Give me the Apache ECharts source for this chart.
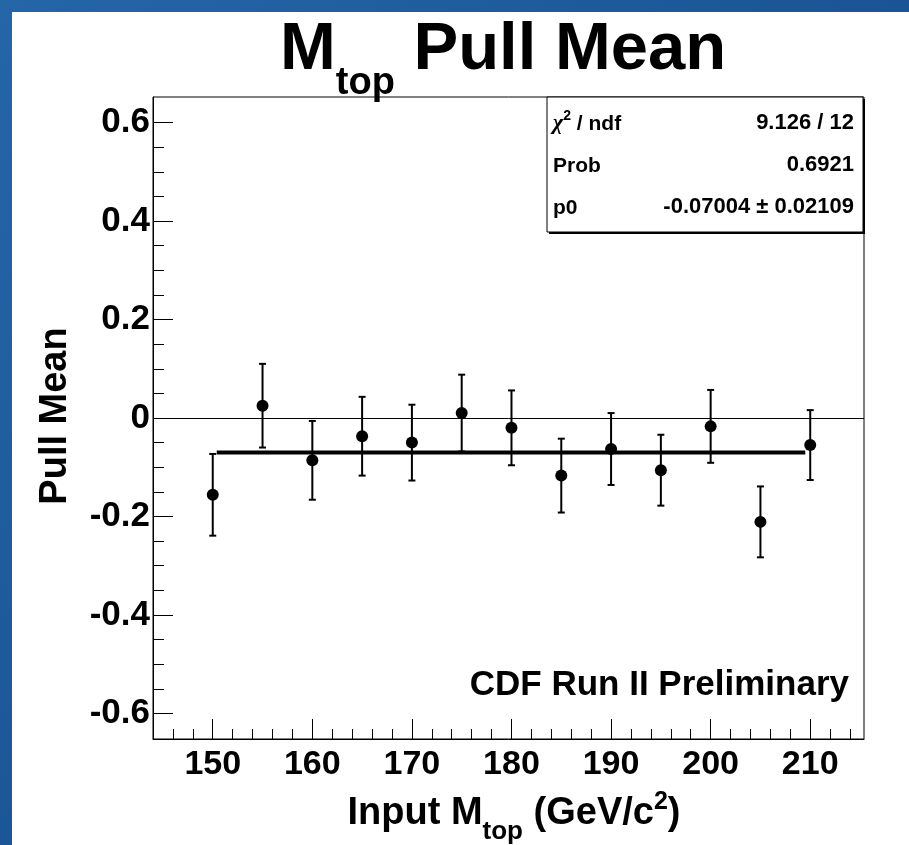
<!DOCTYPE html>
<html><head><meta charset="utf-8">
<script src="https://cdn.jsdelivr.net/npm/echarts@6/dist/echarts.min.js"></script>
<style>html,body{margin:0;padding:0;background:#fff;} #c{width:909px;height:845px;}</style>
</head><body><div id="c"></div>
<script>
// ---- data ----
const massPoints = [150, 155, 160, 165, 170, 175, 180, 185, 190, 195, 200, 205, 210];
const pullMean   = [-0.156, 0.025, -0.086, -0.037, -0.050, 0.010, -0.020, -0.117, -0.063, -0.106, -0.017, -0.211, -0.055];
const pullErr    = [0.083, 0.085, 0.080, 0.080, 0.077, 0.078, 0.076, 0.075, 0.073, 0.072, 0.074, 0.072, 0.071];
const fitRange   = [150.4, 209.5];
const fitP0      = -0.07004;
const xMajorTicks = [150, 160, 170, 180, 190, 200, 210];
const xMinorTicks = [146, 148, 152, 154, 156, 158, 162, 164, 166, 168, 172, 174, 176, 178, 182, 184, 186, 188, 192, 194, 196, 198, 202, 204, 206, 208, 212, 214];
const yMajorTicks = [-0.6, -0.4, -0.2, 0, 0.2, 0.4, 0.6];
const yMinorTicks = [-0.55, -0.5, -0.45, -0.35, -0.3, -0.25, -0.15, -0.1, -0.05, 0.05, 0.1, 0.15, 0.25, 0.3, 0.35, 0.45, 0.5, 0.55];
const xRange = [144, 215.4];
const yRange = [-0.652, 0.652];
const statNames  = ['ndf', 'Prob', 'p0'];
const statValues = ['9.126 / 12', '0.6921', '-0.07004 \u00b1 0.02109'];
const titleText  = ['M', 'top', ' Pull Mean'];
const xTitleText = ['Input M', 'top', ' (GeV/c', '2', ')'];
const yTitleText = 'Pull Mean';
const labelText  = 'CDF Run II Preliminary';

const FONT = '"Liberation Sans", Arial, Helvetica, sans-serif';
const mctx = document.createElement('canvas').getContext('2d');
function tw(s, size, fam, style) {
  mctx.font = (style || '') + ' bold ' + size + 'px ' + (fam || FONT);
  return mctx.measureText(s).width;
}
// pieces: {t, size, dy, fam, style}
function pieceTexts(list, x, baseline, align, z) {
  const ws = list.map(p => tw(p.t, p.size, p.fam, p.style));
  const total = ws.reduce((a, b) => a + b, 0);
  let cx = align === 'right' ? x - total : align === 'center' ? x - total / 2 : x;
  return list.map((p, i) => {
    const el = {
      type: 'text', x: cx, y: baseline + (p.dy || 0) - 0.3465 * p.size, z: z || 50,
      style: { text: p.t, fontSize: p.size, fontWeight: 'bold', fontStyle: p.style || 'normal',
               fontFamily: p.fam || FONT, fill: '#000', align: 'left', verticalAlign: 'middle' }
    };
    cx += ws[i];
    return el;
  });
}

const chart = echarts.init(document.getElementById('c'), null, { renderer: 'canvas' });

const gridL = 153, gridT = 97, gridR = 864, gridB = 739;

const graphics = [];
graphics.push({ type: 'rect', z: -10, shape: { x: 12, y: 12, width: 909, height: 845 }, style: { fill: '#fff' } });
// title
graphics.push(...pieceTexts([
  { t: titleText[0], size: 67 }, { t: titleText[1], size: 38, dy: 23 }, { t: titleText[2], size: 67 }
], 280, 74, 'left'));
// x title
graphics.push(...pieceTexts([
  { t: xTitleText[0], size: 38 }, { t: xTitleText[1], size: 26, dy: 14 }, { t: xTitleText[2], size: 38 },
  { t: xTitleText[3], size: 25, dy: -16 }, { t: xTitleText[4], size: 38 }
], 514, 827, 'center'));
// y title
graphics.push({
  type: 'text', x: 56, y: 416, rotation: Math.PI / 2, z: 50,
  style: { text: yTitleText, fontSize: 38, fontWeight: 'bold', fontFamily: FONT, fill: '#000', align: 'center', verticalAlign: 'middle' }
});
// CDF label
graphics.push(...pieceTexts([{ t: labelText, size: 35 }], 849, 697, 'right'));
// stats box
const bx = 547, by = 97, bw = 316, bh = 135;
graphics.push({ type: 'rect', z: 60, shape: { x: bx + 2, y: by + 2, width: bw, height: bh }, style: { fill: '#000' } });
graphics.push({ type: 'rect', z: 61, shape: { x: bx, y: by, width: bw, height: bh }, style: { fill: '#fff', stroke: '#000', lineWidth: 1 } });
const rowBase = [131, 173, 215];
graphics.push(...pieceTexts([
  { t: '\u03c7', size: 22, fam: '"Liberation Serif", serif', style: 'italic' }, { t: '2', size: 14, dy: -10 }, { t: ' / ' + statNames[0], size: 21 }
], 553, rowBase[0], 'left', 70));
graphics.push(...pieceTexts([{ t: statNames[1], size: 21 }], 553, rowBase[1], 'left', 70));
graphics.push(...pieceTexts([{ t: statNames[2], size: 21 }], 553, rowBase[2], 'left', 70));
statValues.forEach((v, i) => graphics.push(...pieceTexts([{ t: v, size: 22 }], 854, rowBase[i], 'right', 70)));

const axisLineStyle = { color: '#000', width: 1 };
function xAxisDef(major) {
  return {
    type: 'value', gridIndex: 0, position: 'bottom', min: xRange[0], max: xRange[1],
    axisLine: { show: major, onZero: false, lineStyle: axisLineStyle },
    axisTick: { show: true, inside: true, length: major ? 20 : 10, lineStyle: { color: '#000', width: 1 },
                customValues: major ? xMajorTicks : xMinorTicks },
    axisLabel: major ? { show: true, customValues: xMajorTicks, margin: 9, color: '#000', fontSize: 34, fontWeight: 'bold', fontFamily: FONT }
                     : { show: false },
    splitLine: { show: false }, minorTick: { show: false }
  };
}
function yAxisDef(major) {
  return {
    type: 'value', gridIndex: 0, position: 'left', min: yRange[0], max: yRange[1],
    axisLine: { show: major, onZero: false, lineStyle: axisLineStyle },
    axisTick: { show: true, inside: true, length: major ? 20 : 11, lineStyle: { color: '#000', width: 1 },
                customValues: major ? yMajorTicks : yMinorTicks },
    axisLabel: major ? { show: true, customValues: yMajorTicks, margin: 3, color: '#000', fontSize: 35, fontWeight: 'bold', fontFamily: FONT,
                         formatter: v => (Math.abs(v) < 1e-9 ? '0' : String(Math.round(v * 10) / 10)) }
                     : { show: false },
    splitLine: { show: false }, minorTick: { show: false }
  };
}

chart.setOption({
  animation: false,
  backgroundColor: new echarts.graphic.LinearGradient(0, 0, 1, 1, [
    { offset: 0, color: '#2566a8' }, { offset: 0.5, color: '#1b5596' }, { offset: 1, color: '#164a88' }
  ]),
  grid: { left: gridL, top: gridT, width: gridR - gridL, height: gridB - gridT, show: true,
          borderColor: '#000', borderWidth: 1, backgroundColor: 'transparent' },
  xAxis: [xAxisDef(true), xAxisDef(false)],
  yAxis: [yAxisDef(true), yAxisDef(false)],
  graphic: { elements: graphics },
  series: [
    {
      type: 'line', xAxisIndex: 0, yAxisIndex: 0, z: 3,
      data: [[fitRange[0], fitP0], [fitRange[1], fitP0]],
      showSymbol: false, symbol: 'none', lineStyle: { color: '#000', width: 4 },
      markLine: { silent: true, symbol: ['none', 'none'], label: { show: false },
                  lineStyle: { color: '#000', width: 1, type: 'solid' }, data: [{ yAxis: 0 }] }
    },
    {
      type: 'custom', xAxisIndex: 0, yAxisIndex: 0, z: 4,
      data: massPoints.map((x, i) => [x, pullMean[i], pullErr[i]]),
      renderItem: (params, api) => {
        const x = api.value(0), y = api.value(1), e = api.value(2);
        const t = api.coord([x, y + e]), b = api.coord([x, y - e]);
        const cw = 3.5, st = { stroke: '#000', lineWidth: 2 };
        return { type: 'group', children: [
          { type: 'line', shape: { x1: t[0], y1: t[1], x2: b[0], y2: b[1] }, style: st },
          { type: 'line', shape: { x1: t[0] - cw, y1: t[1], x2: t[0] + cw, y2: t[1] }, style: st },
          { type: 'line', shape: { x1: b[0] - cw, y1: b[1], x2: b[0] + cw, y2: b[1] }, style: st }
        ] };
      }
    },
    {
      type: 'scatter', xAxisIndex: 0, yAxisIndex: 0, z: 5,
      data: massPoints.map((x, i) => [x, pullMean[i]]),
      symbol: 'circle', symbolSize: 12, itemStyle: { color: '#000', opacity: 1 }
    }
  ]
});
</script></body></html>
